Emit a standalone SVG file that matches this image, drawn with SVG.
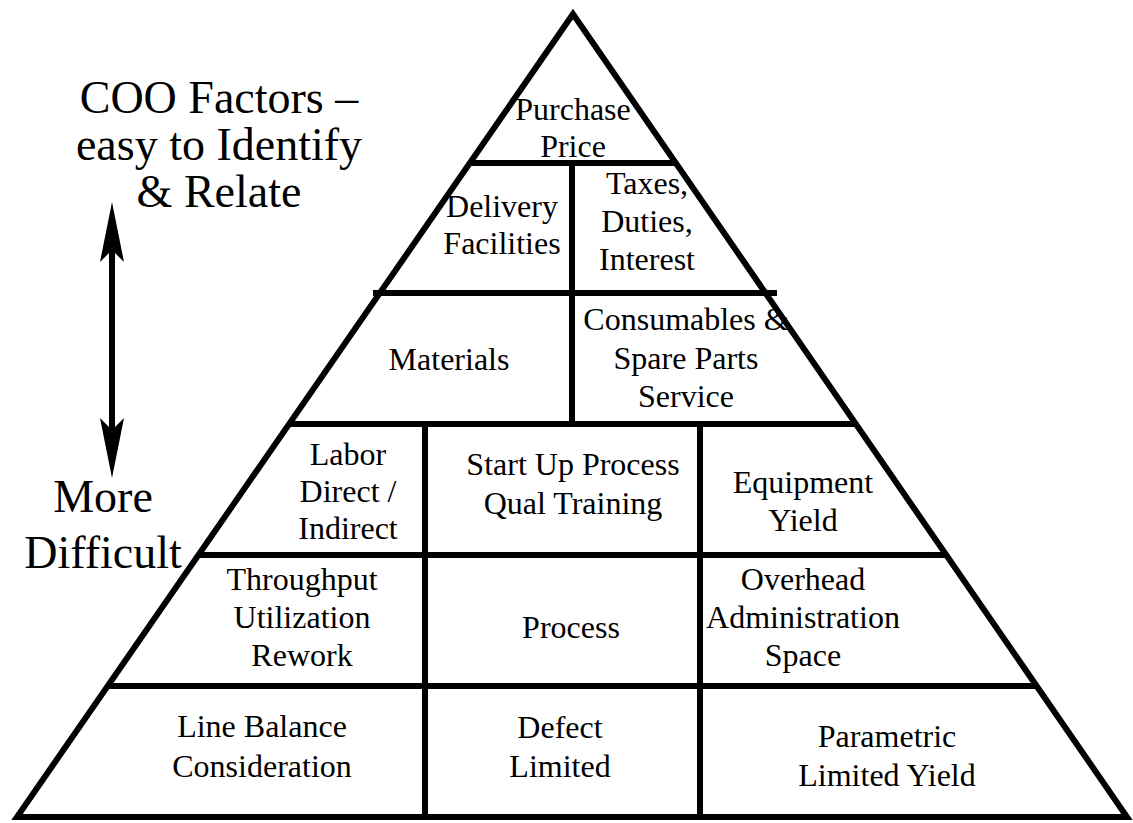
<svg xmlns="http://www.w3.org/2000/svg" width="1133" height="823" viewBox="0 0 1133 823">
<style>
.ln{stroke:#000;stroke-width:6;fill:none}
</style>
<rect width="1133" height="823" fill="#fff"/>
<g id="pyramid">
<polygon class="ln" points="573,14 17,817 1127,817" stroke-linejoin="miter"/>
<line class="ln" x1="470" y1="163" x2="677" y2="163"/>
<line class="ln" x1="373" y1="293" x2="777" y2="293"/>
<line class="ln" x1="289" y1="424" x2="857" y2="424"/>
<line class="ln" x1="198" y1="555" x2="948" y2="555"/>
<line class="ln" x1="108" y1="686" x2="1038" y2="686"/>
<line class="ln" x1="572" y1="163" x2="572" y2="424"/>
<line class="ln" x1="425" y1="424" x2="425" y2="817"/>
<line class="ln" x1="700" y1="424" x2="700" y2="817"/>
</g>
<g id="n-purchase"><text style="font-family:'Liberation Serif','Times New Roman',serif;font-size:32px" text-anchor="middle" x="573" y="120">Purchase</text><text style="font-family:'Liberation Serif','Times New Roman',serif;font-size:32px" text-anchor="middle" x="573" y="157">Price</text></g>
<g id="n-delivery"><text style="font-family:'Liberation Serif','Times New Roman',serif;font-size:32px" text-anchor="middle" x="502" y="217">Delivery</text><text style="font-family:'Liberation Serif','Times New Roman',serif;font-size:32px" text-anchor="middle" x="502" y="254">Facilities</text></g>
<g id="n-taxes"><text style="font-family:'Liberation Serif','Times New Roman',serif;font-size:32px" text-anchor="middle" x="647" y="194">Taxes,</text><text style="font-family:'Liberation Serif','Times New Roman',serif;font-size:32px" text-anchor="middle" x="647" y="232">Duties,</text><text style="font-family:'Liberation Serif','Times New Roman',serif;font-size:32px" text-anchor="middle" x="647" y="270">Interest</text></g>
<g id="n-materials"><text style="font-family:'Liberation Serif','Times New Roman',serif;font-size:32px" text-anchor="middle" x="449" y="370">Materials</text></g>
<g id="n-consumables"><text style="font-family:'Liberation Serif','Times New Roman',serif;font-size:32px" text-anchor="middle" x="686" y="330">Consumables &amp;</text><text style="font-family:'Liberation Serif','Times New Roman',serif;font-size:32px" text-anchor="middle" x="686" y="369">Spare Parts</text><text style="font-family:'Liberation Serif','Times New Roman',serif;font-size:32px" text-anchor="middle" x="686" y="407">Service</text></g>
<g id="n-labor"><text style="font-family:'Liberation Serif','Times New Roman',serif;font-size:32px" text-anchor="middle" x="348" y="465">Labor</text><text style="font-family:'Liberation Serif','Times New Roman',serif;font-size:32px" text-anchor="middle" x="348" y="502">Direct /</text><text style="font-family:'Liberation Serif','Times New Roman',serif;font-size:32px" text-anchor="middle" x="348" y="539">Indirect</text></g>
<g id="n-startup"><text style="font-family:'Liberation Serif','Times New Roman',serif;font-size:32px" text-anchor="middle" x="573" y="475">Start Up Process</text><text style="font-family:'Liberation Serif','Times New Roman',serif;font-size:32px" text-anchor="middle" x="573" y="514">Qual Training</text></g>
<g id="n-equipment"><text style="font-family:'Liberation Serif','Times New Roman',serif;font-size:32px" text-anchor="middle" x="803" y="493">Equipment</text><text style="font-family:'Liberation Serif','Times New Roman',serif;font-size:32px" text-anchor="middle" x="803" y="531">Yield</text></g>
<g id="n-throughput"><text style="font-family:'Liberation Serif','Times New Roman',serif;font-size:32px" text-anchor="middle" x="302" y="590">Throughput</text><text style="font-family:'Liberation Serif','Times New Roman',serif;font-size:32px" text-anchor="middle" x="302" y="628">Utilization</text><text style="font-family:'Liberation Serif','Times New Roman',serif;font-size:32px" text-anchor="middle" x="302" y="666">Rework</text></g>
<g id="n-process"><text style="font-family:'Liberation Serif','Times New Roman',serif;font-size:32px" text-anchor="middle" x="571" y="638">Process</text></g>
<g id="n-overhead"><text style="font-family:'Liberation Serif','Times New Roman',serif;font-size:32px" text-anchor="middle" x="803" y="590">Overhead</text><text style="font-family:'Liberation Serif','Times New Roman',serif;font-size:32px" text-anchor="middle" x="803" y="628">Administration</text><text style="font-family:'Liberation Serif','Times New Roman',serif;font-size:32px" text-anchor="middle" x="803" y="666">Space</text></g>
<g id="n-linebalance"><text style="font-family:'Liberation Serif','Times New Roman',serif;font-size:32px" text-anchor="middle" x="262" y="737">Line Balance</text><text style="font-family:'Liberation Serif','Times New Roman',serif;font-size:32px" text-anchor="middle" x="262" y="777">Consideration</text></g>
<g id="n-defect"><text style="font-family:'Liberation Serif','Times New Roman',serif;font-size:32px" text-anchor="middle" x="560" y="738">Defect</text><text style="font-family:'Liberation Serif','Times New Roman',serif;font-size:32px" text-anchor="middle" x="560" y="777">Limited</text></g>
<g id="n-parametric"><text style="font-family:'Liberation Serif','Times New Roman',serif;font-size:32px" text-anchor="middle" x="887" y="747">Parametric</text><text style="font-family:'Liberation Serif','Times New Roman',serif;font-size:32px" text-anchor="middle" x="887" y="786">Limited Yield</text></g>
<g id="label-top"><text style="font-family:'Liberation Serif','Times New Roman',serif;font-size:46px" text-anchor="middle" x="219" y="113">COO Factors &#8211;</text><text style="font-family:'Liberation Serif','Times New Roman',serif;font-size:46px" text-anchor="middle" x="219" y="160">easy to Identify</text><text style="font-family:'Liberation Serif','Times New Roman',serif;font-size:46px" text-anchor="middle" x="219" y="207">&amp; Relate</text></g>
<g id="label-bottom"><text style="font-family:'Liberation Serif','Times New Roman',serif;font-size:46px" text-anchor="middle" x="103" y="512">More</text><text style="font-family:'Liberation Serif','Times New Roman',serif;font-size:46px" text-anchor="middle" x="103" y="568">Difficult</text></g>
<g id="connectors">
<line class="ln" x1="112" y1="245" x2="112" y2="435"/>
<polygon points="112,202 124,262 112,250 100,262" fill="#000"/>
<polygon points="112,478 124,418 112,430 100,418" fill="#000"/>
</g>
</svg>
